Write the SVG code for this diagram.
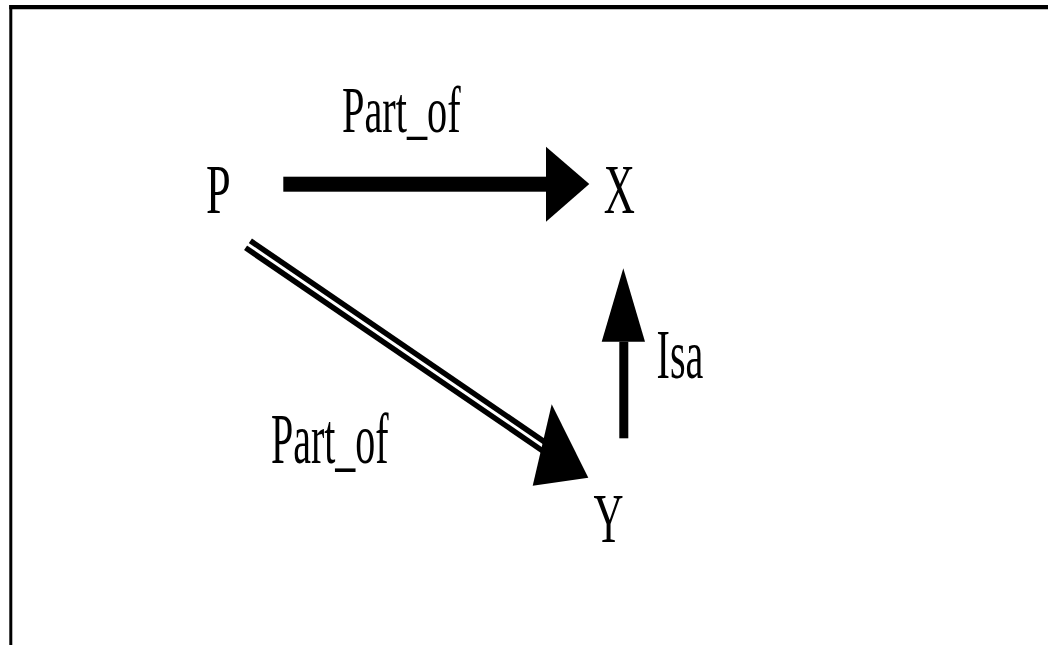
<svg xmlns="http://www.w3.org/2000/svg" width="1048" height="645" viewBox="0 0 1048 645">
<style>
  text { font-family: "Liberation Serif", "Times New Roman", serif; fill: #000; }
  .frame { stroke: #000; fill: none; }
</style>
<rect width="1048" height="645" fill="#fff"/>
<g id="frame">
  <line class="frame" x1="9.3" y1="7.2" x2="1048" y2="7.2" stroke-width="4.3"/>
  <line class="frame" x1="10.8" y1="5" x2="10.8" y2="645" stroke-width="3"/>
</g>
<g id="connectors">
  <g id="edge-P-X">
    <rect x="283.3" y="176.7" width="262.7" height="15" fill="#000"/>
    <polygon points="546,146.7 589.3,184 546,221.7" fill="#000"/>
  </g>
  <g id="edge-Y-X">
    <rect x="619.3" y="341.7" width="9" height="96.6" fill="#000"/>
    <polygon points="601.7,341.7 623.3,268.3 645,341.7" fill="#000"/>
  </g>
  <g id="edge-P-Y">
    <line x1="248" y1="244.3" x2="546" y2="448" stroke="#000" stroke-width="14"/>
    <line x1="246" y1="242.9" x2="548" y2="449.4" stroke="#fff" stroke-width="3"/>
    <polygon points="551.7,404.3 588.3,477.7 532.7,485.7" fill="#000"/>
  </g>
  <text id="label-partof-top" transform="translate(342,131.5) scale(0.62,1)" font-size="65">Part_of</text>
  <text id="label-partof-bottom" transform="translate(271,462.7) scale(0.555,1)" font-size="72">Part_of</text>
  <text id="label-isa" transform="translate(656.5,378.3) scale(0.574,1)" font-size="70">Isa</text>
</g>
<g id="node-P">
  <text transform="translate(206,212.7) scale(0.633,1)" font-size="70">P</text>
</g>
<g id="node-X">
  <text transform="translate(603.7,212.7) scale(0.616,1)" font-size="70">X</text>
</g>
<g id="node-Y">
  <text transform="translate(593.4,541.7) scale(0.595,1)" font-size="70">Y</text>
</g>
</svg>
